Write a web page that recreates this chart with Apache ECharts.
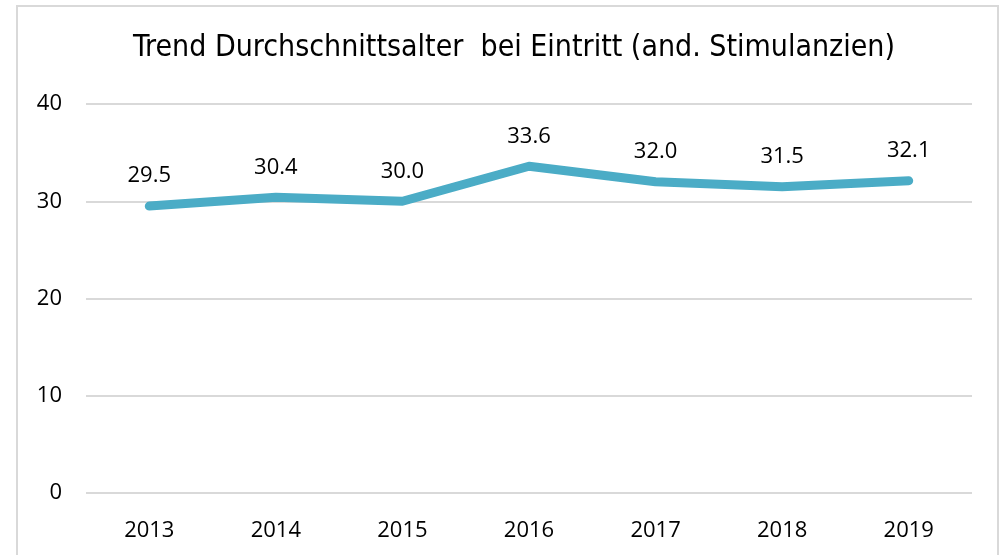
<!DOCTYPE html>
<html>
<head>
<meta charset="utf-8">
<script src="https://cdn.jsdelivr.net/npm/echarts@6/dist/echarts.min.js"></script>
<style>
html,body{margin:0;padding:0;background:#fff;}
#c{width:1007px;height:555px;}
</style>
</head>
<body>
<div id="c"></div>
<script>
const titleText = 'Trend Durchschnittsalter  bei Eintritt (and. Stimulanzien)';
const categories = ['2013', '2014', '2015', '2016', '2017', '2018', '2019'];
const values = [29.5, 30.4, 30.0, 33.6, 32.0, 31.5, 32.1];
const yTicks = [0, 10, 20, 30, 40];

const chart = echarts.init(document.getElementById('c'), null, {renderer: 'canvas'});
chart.setOption({
  animation: false,
  backgroundColor: '#fff',
  title: {
    text: titleText,
    left: 128,
    top: 28,
    textStyle: {
      fontFamily: '"DejaVu Sans Condensed", sans-serif',
      fontSize: 30,
      fontWeight: 'normal',
      color: '#000'
    }
  },
  graphic: [{
    type: 'rect',
    shape: {x: 17, y: 6, width: 981, height: 600},
    style: {fill: 'none', stroke: '#d9d9d9', lineWidth: 2},
    silent: true,
    z: -1
  }],
  grid: {left: 86, right: 35, top: 104, bottom: 62},
  xAxis: {
    type: 'category',
    data: categories,
    boundaryGap: true,
    axisLine: {show: false},
    axisTick: {show: false},
    axisLabel: {
      fontFamily: '"Open Sans", sans-serif',
      fontSize: 22,
      color: '#000',
      margin: 27
    }
  },
  yAxis: {
    type: 'value',
    min: yTicks[0],
    max: yTicks[yTicks.length - 1],
    interval: 10,
    axisLine: {show: false},
    axisTick: {show: false},
    splitLine: {lineStyle: {color: '#d9d9d9', width: 2}},
    axisLabel: {
      fontFamily: '"Open Sans", sans-serif',
      fontSize: 22,
      color: '#000',
      margin: 24
    }
  },
  series: [{
    type: 'line',
    data: values,
    symbol: 'circle',
    symbolSize: 2,
    showSymbol: true,
    itemStyle: {color: 'rgba(75,172,198,0)', borderWidth: 0},
    lineStyle: {color: '#4bacc6', width: 9, cap: 'round', join: 'round'},
    label: {
      show: true,
      position: 'top',
      distance: 18,
      formatter: function (p) { return Number(p.value).toFixed(1); },
      fontFamily: '"Open Sans", sans-serif',
      fontSize: 22,
      color: '#000'
    }
  }]
});
</script>
</body>
</html>
